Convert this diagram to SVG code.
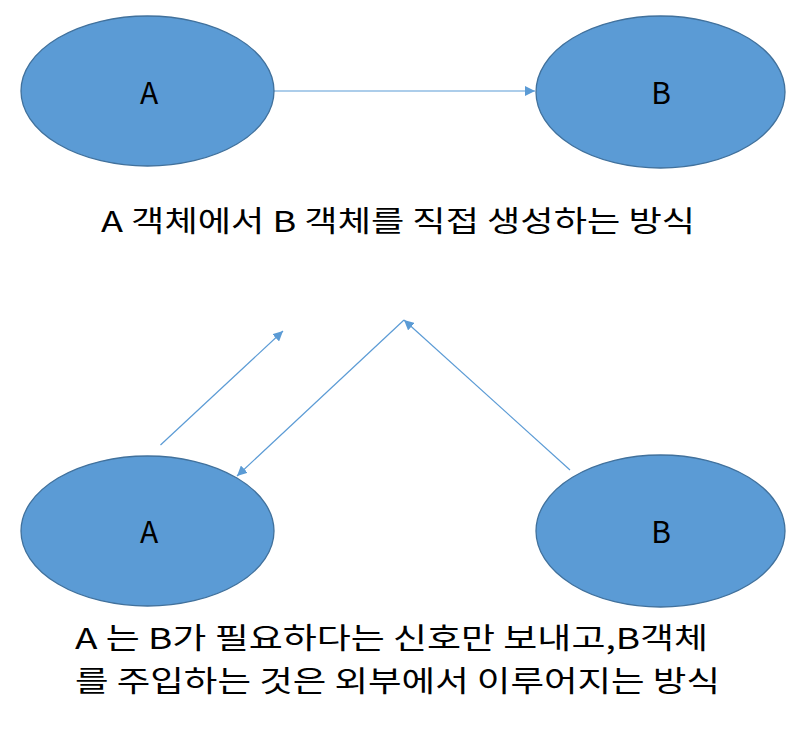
<svg xmlns="http://www.w3.org/2000/svg" width="809" height="732" viewBox="0 0 809 732">
<defs>
<style>
.node{fill:#5B9BD5;stroke:#41719C;stroke-width:1.3}
.lbl{font-family:"Noto Sans CJK KR","Noto Sans",sans-serif;font-size:30px;fill:#000;text-anchor:middle}
.cap{font-family:"Noto Sans CJK KR","Noto Sans",sans-serif;font-size:29px;fill:#000}
.edge{stroke:#5B9BD5;stroke-width:1.2;fill:none;marker-end:url(#ah)}
</style>
<marker id="ah" viewBox="0 0 10 10" refX="10" refY="5" markerWidth="10" markerHeight="10" markerUnits="userSpaceOnUse" orient="auto">
<path d="M0,0 L10,5 L0,10 z" fill="#5B9BD5"/>
</marker>
</defs>
<rect width="809" height="732" fill="#fff"/>
<g id="connectors">
<line class="edge" x1="274" y1="91" x2="535" y2="91"/>
<line class="edge" x1="160.5" y1="445" x2="283" y2="331"/>
<line class="edge" x1="404" y1="320" x2="237" y2="476"/>
<line class="edge" x1="570" y1="470" x2="404" y2="320"/>
</g>
<g id="nodeA1"><ellipse class="node" cx="147.5" cy="91" rx="126.5" ry="75"/><text class="lbl" x="149" y="104">A</text></g>
<g id="nodeB1"><ellipse class="node" cx="660.5" cy="92" rx="124.5" ry="76"/><text class="lbl" x="661" y="104">B</text></g>
<g id="nodeA2"><ellipse class="node" cx="147.5" cy="531" rx="126.5" ry="75"/><text class="lbl" x="149" y="543">A</text></g>
<g id="nodeB2"><ellipse class="node" cx="660.5" cy="531" rx="124.5" ry="76"/><text class="lbl" x="661" y="543">B</text></g>
<text class="cap" x="101" y="232" textLength="594" lengthAdjust="spacingAndGlyphs">A 객체에서 B 객체를 직접 생성하는 방식</text>
<text class="cap" x="75" y="649" textLength="633" lengthAdjust="spacingAndGlyphs">A 는 B가 필요하다는 신호만 보내고,B객체</text>
<text class="cap" x="75" y="692" textLength="645" lengthAdjust="spacingAndGlyphs">를 주입하는 것은 외부에서 이루어지는 방식</text>
</svg>
